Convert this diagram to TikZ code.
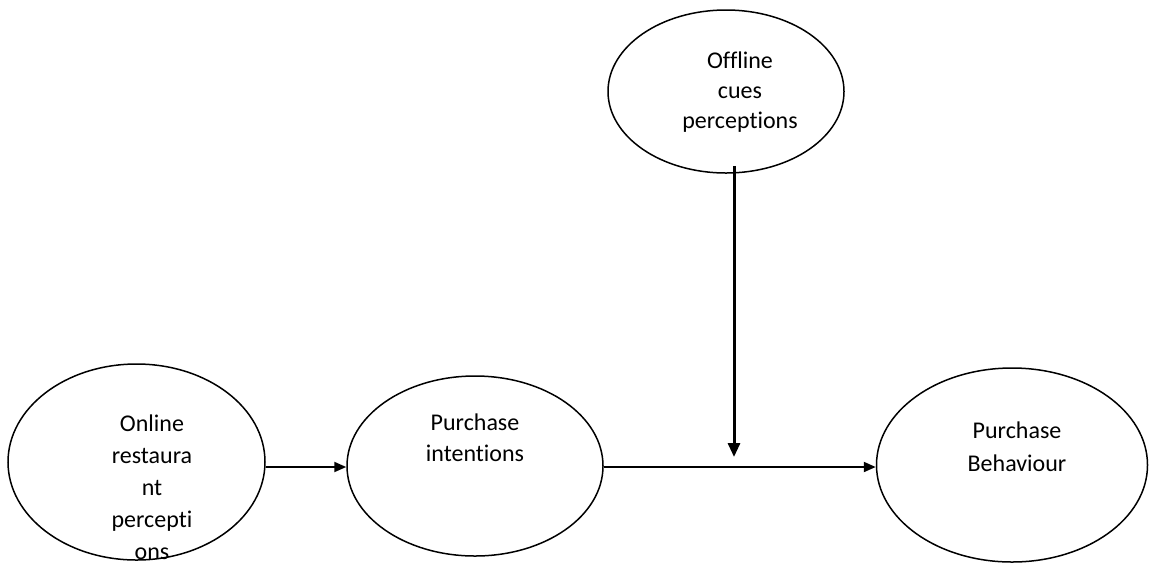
\documentclass[tikz,border=0pt]{standalone}
\usepackage{fontspec}
\setmainfont{Carlito}[Ligatures={NoCommon}]
\usetikzlibrary{shapes.geometric,arrows.meta}
\tikzset{
  oval/.style={draw, ellipse, line width=0.75pt, inner sep=0pt},
  lbl/.style={align=center, inner sep=0pt, font=\fontsize{12}{16}\selectfont},
  arr/.style={line width=1pt, -{Triangle[length=6pt,width=5pt]}},
  varr/.style={line width=1.5pt, -{Triangle[length=7pt,width=6pt]}}
}
\begin{document}
\begin{tikzpicture}[x=0.5pt,y=-0.5pt]
\useasboundingbox (0,0) rectangle (1150,563);
\fill[white] (0,0) rectangle (1150,563);
\node[oval, minimum width=128.5pt, minimum height=98pt] (e1) at (136.5,462) {};
\node[oval, minimum width=128pt, minimum height=90pt] (e2) at (475,466) {};
\node[oval, minimum width=118pt, minimum height=81.5pt] (e3) at (726,91.5) {};
\node[oval, minimum width=135.5pt, minimum height=97pt] (e4) at (1012,465) {};
\node[lbl] (t1) at (152,487) {Online\\restaura\\nt\\percepti\\ons};
\node[lbl, font=\fontsize{12}{15.5}\selectfont] (t2) at (475,437.5) {Purchase\\intentions};
\node[lbl, font=\fontsize{12}{15}\selectfont] (t3) at (740,92) {Offline\\cues\\perceptions};
\node[lbl, font=\fontsize{12}{16.5}\selectfont] (t4) at (1017,446.5) {Purchase\\Behaviour};
\coordinate (yl) at (0,467);
\coordinate (xl) at (734,0);
\coordinate (vt) at (734,457);
\draw[arr] (e1.east |- yl) -- (e2.west |- yl);
\draw[arr] (e2.east |- yl) -- (e4.west |- yl);
\draw[varr] (e3.south -| xl) ++(0,-8) -- (vt);
\end{tikzpicture}
\end{document}
